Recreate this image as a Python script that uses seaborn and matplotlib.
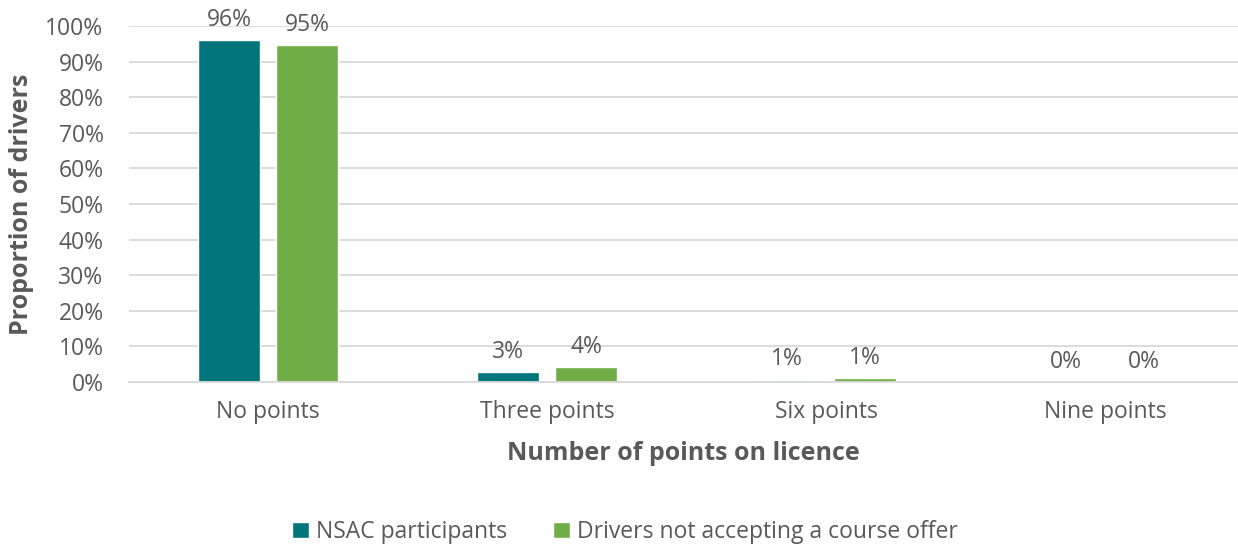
import matplotlib
matplotlib.use("Agg")
import matplotlib.pyplot as plt
import seaborn as sns
import pandas as pd

categories = ["No points", "Three points", "Six points", "Nine points"]
series_names = ["NSAC participants", "Drivers not accepting a course offer"]
nsac_values = [96.1, 2.8, 0.7, 0.0]
other_values = [94.7, 4.1, 1.0, 0.0]
nsac_labels = ["96%", "3%", "1%", "0%"]
other_labels = ["95%", "4%", "1%", "0%"]
y_ticks = [0, 10, 20, 30, 40, 50, 60, 70, 80, 90, 100]

colors = ["#00757C", "#70AD47"]
text_color = "#595959"

sns.set_theme(style="white")
plt.rcParams['font.family'] = ['Open Sans', 'DejaVu Sans']

df = pd.DataFrame({
    "category": categories * 2,
    "series": [series_names[0]] * 4 + [series_names[1]] * 4,
    "value": nsac_values + other_values,
})

fig = plt.figure(figsize=(12.38, 5.46), dpi=100)
ax = fig.add_axes([128.5 / 1238, (546 - 382) / 546, 1 - 128.5 / 1238, (382 - 26) / 546])

sns.barplot(data=df, x="category", y="value", hue="series", order=categories,
            hue_order=series_names, palette=colors, width=0.56, gap=0.2,
            saturation=1, ax=ax, legend=True)

ax.set_ylim(0, 100)
ax.set_xlim(-0.5, (1238 - 128.5) / 279 - 0.5)
ax.set_yticks(y_ticks)
ax.set_yticklabels([f"{t}%" for t in y_ticks])
ax.yaxis.grid(True, color="#D9D9D9", linewidth=1.3)
ax.set_axisbelow(True)
for s in ["top", "right", "left"]:
    ax.spines[s].set_visible(False)
ax.spines["bottom"].set_color("#D9D9D9")
ax.spines["bottom"].set_linewidth(1.3)
ax.tick_params(axis="both", length=0, colors=text_color, labelsize=16.5)
ax.tick_params(axis="x", pad=13)
ax.tick_params(axis="y", pad=18)

for container, labs in zip(ax.containers, [nsac_labels, other_labels]):
    ax.bar_label(container, labels=labs, padding=6, color=text_color,
                 fontsize=16.5, clip_on=False)

ax.set_xlabel("Number of points on licence", fontsize=18, fontweight="bold",
              color=text_color, labelpad=12)
ax.set_ylabel("Proportion of drivers", fontsize=18, fontweight="bold",
              color=text_color)
ax.yaxis.set_label_coords(-94 / (1238 - 128.5), 0.5)

leg = ax.legend(loc="center", bbox_to_anchor=(625 / 1238, 14 / 546),
                bbox_transform=fig.transFigure, ncol=2, frameon=False,
                fontsize=16.5, handlelength=0.75, handleheight=0.75,
                handletextpad=0.3, columnspacing=2.0)
for t in leg.get_texts():
    t.set_color(text_color)

fig.savefig("out.png", dpi=100)
